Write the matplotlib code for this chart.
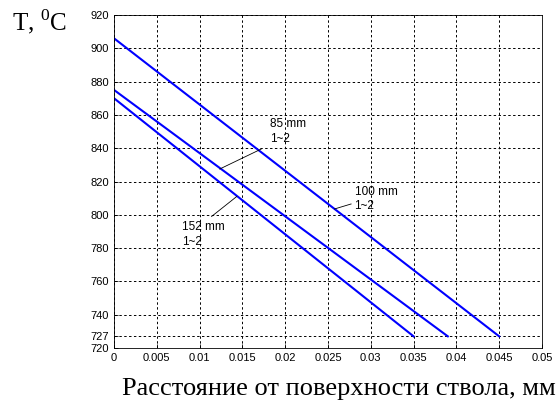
import numpy as np
import matplotlib
matplotlib.use("Agg")
import matplotlib.pyplot as plt

plt.rcParams["mathtext.fontset"] = "custom"
plt.rcParams["mathtext.rm"] = "Liberation Serif"

# distance (m) vs temperature for three barrel calibres
x_100 = [0.0, 0.045]
t_100 = [906, 727]
x_85 = [0.0, 0.039]
t_85 = [875, 727]
x_152 = [0.0, 0.035]
t_152 = [870, 727]

xticks = [0, 0.005, 0.01, 0.015, 0.02, 0.025, 0.03, 0.035, 0.04, 0.045, 0.05]
xticklabels = ["0", "0.005", "0.01", "0.015", "0.02", "0.025", "0.03", "0.035", "0.04", "0.045", "0.05"]
yticks = [720, 727, 740, 760, 780, 800, 820, 840, 860, 880, 900, 920]

fig = plt.figure(figsize=(5.58, 4.0), dpi=100)
ax = fig.add_axes([0.2043, 0.13, 0.767, 0.8325])

for xs, ts in [(x_100, t_100), (x_85, t_85), (x_152, t_152)]:
    ax.plot(xs, ts, color=(0, 0, 1), lw=1.5)

ax.set_xlim(0, 0.05)
ax.set_ylim(720, 920)
ax.set_xticks(xticks)
ax.set_xticklabels(xticklabels)
ax.set_yticks(yticks)
ax.grid(True, color="black", linestyle=(0, (2.5, 2.5)), lw=0.7)
ax.tick_params(direction="in", labelsize=8, length=3, width=0.6)
for lab in ax.get_xticklabels() + ax.get_yticklabels():
    lab.set_family("Liberation Sans")
for sp in ax.spines.values():
    sp.set_linewidth(0.6)

# annotations with leader lines
anno = dict(fontsize=8.5, family="Liberation Sans", va="center", ha="left", linespacing=1.3)
ax.text(0.0182, 850, "85 mm\n1~2", **anno)
ax.plot([0.0172, 0.01235], [839.5, 827.5], color="black", lw=0.6)
ax.text(0.0079, 788, "152 mm\n1~2", **anno)
ax.plot([0.0114, 0.01434], [799, 811], color="black", lw=0.6)
ax.text(0.0281, 809.5, "100 mm\n1~2", **anno)
ax.plot([0.0277, 0.02576], [806.5, 803.5], color="black", lw=0.6)

fig.text(12 / 558, 1 - 22 / 400, r"T, $^{0}$C", family="Liberation Serif",
         fontsize=18, va="center", ha="left")
fig.text(338.5 / 558, 1 - 389 / 400, "Расстояние от поверхности ствола, мм",
         family="Liberation Serif", fontsize=19, va="center", ha="center")

fig.savefig("out.png", dpi=100)
